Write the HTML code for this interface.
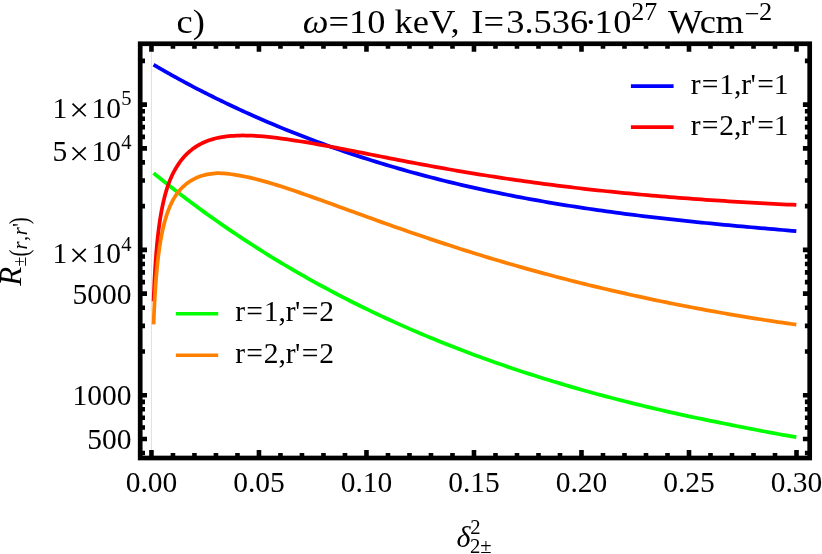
<!DOCTYPE html>
<html><head><meta charset="utf-8"><title>plot</title>
<style>html,body{margin:0;padding:0;background:#fff}svg{display:block;will-change:transform}text{font-family:"Liberation Serif",serif;fill:#000}</style>
</head><body>
<svg width="822" height="554" viewBox="0 0 822 554">
<rect width="822" height="554" fill="#fff"/>
<line x1="151.45" y1="43.75" x2="151.45" y2="458.0" stroke="#d2d2d2" stroke-width="0.7"/>
<path d="M153.60,173.11 L153.67,173.17 L153.75,173.23 L153.82,173.30 L153.90,173.36 L153.98,173.43 L154.07,173.50 L154.16,173.57 L154.25,173.64 L154.34,173.72 L154.44,173.80 L154.54,173.88 L154.64,173.96 L154.75,174.05 L154.86,174.14 L154.97,174.23 L155.09,174.33 L155.21,174.43 L155.34,174.53 L155.47,174.63 L155.60,174.74 L155.74,174.86 L155.88,174.97 L156.03,175.09 L156.18,175.22 L156.34,175.34 L156.50,175.48 L156.67,175.61 L156.85,175.76 L157.03,175.90 L157.21,176.05 L157.41,176.21 L157.61,176.37 L157.81,176.54 L158.03,176.71 L158.24,176.89 L158.47,177.07 L158.71,177.26 L158.95,177.45 L159.20,177.66 L159.46,177.87 L159.73,178.08 L160.00,178.30 L160.29,178.53 L160.58,178.77 L160.89,179.02 L161.20,179.27 L161.53,179.53 L161.87,179.80 L162.22,180.08 L162.58,180.37 L162.95,180.66 L163.33,180.97 L163.73,181.29 L164.14,181.61 L164.56,181.95 L165.00,182.30 L165.45,182.66 L165.92,183.03 L166.41,183.42 L166.91,183.81 L167.42,184.22 L167.96,184.64 L168.51,185.08 L169.08,185.53 L169.67,185.99 L170.28,186.47 L170.91,186.96 L171.56,187.47 L172.23,188.00 L172.92,188.54 L173.64,189.10 L174.38,189.67 L175.15,190.27 L175.94,190.88 L176.76,191.52 L177.60,192.17 L178.48,192.84 L179.38,193.54 L180.31,194.25 L181.28,194.99 L182.28,195.75 L183.31,196.54 L184.37,197.35 L185.47,198.18 L186.61,199.04 L187.78,199.93 L189.00,200.84 L190.25,201.78 L191.55,202.75 L192.89,203.75 L194.27,204.77 L195.71,205.83 L197.18,206.92 L198.71,208.05 L200.29,209.20 L201.93,210.39 L203.61,211.62 L205.36,212.88 L207.16,214.18 L209.02,215.51 L210.94,216.88 L212.93,218.30 L214.99,219.75 L217.11,221.24 L219.30,222.78 L221.57,224.35 L223.91,225.98 L226.34,227.64 L228.84,229.35 L231.43,231.11 L234.10,232.92 L236.86,234.77 L239.71,236.67 L242.66,238.62 L245.71,240.62 L248.86,242.68 L252.12,244.78 L255.48,246.94 L258.96,249.15 L263.48,252.00 L267.99,254.81 L272.51,257.59 L277.02,260.35 L281.54,263.07 L286.05,265.76 L290.57,268.42 L295.09,271.05 L299.60,273.66 L304.12,276.23 L308.63,278.78 L313.15,281.30 L317.67,283.79 L322.18,286.25 L326.70,288.68 L331.21,291.09 L335.73,293.47 L340.24,295.83 L344.76,298.16 L349.28,300.46 L353.79,302.73 L358.31,304.98 L362.82,307.21 L367.34,309.41 L371.85,311.59 L376.37,313.74 L380.89,315.87 L385.40,317.97 L389.92,320.05 L394.43,322.11 L398.95,324.14 L403.47,326.15 L407.98,328.14 L412.50,330.11 L417.01,332.05 L421.53,333.98 L426.04,335.88 L430.56,337.76 L435.08,339.61 L439.59,341.45 L444.11,343.27 L448.62,345.06 L453.14,346.84 L457.65,348.59 L462.17,350.33 L466.69,352.05 L471.20,353.74 L475.72,355.42 L480.23,357.08 L484.75,358.72 L489.26,360.34 L493.78,361.94 L498.30,363.53 L502.81,365.09 L507.33,366.64 L511.84,368.18 L516.36,369.69 L520.88,371.19 L525.39,372.67 L529.91,374.13 L534.42,375.58 L538.94,377.01 L543.45,378.42 L547.97,379.82 L552.49,381.20 L557.00,382.57 L561.52,383.92 L566.03,385.26 L570.55,386.58 L575.06,387.88 L579.58,389.18 L584.10,390.45 L588.61,391.71 L593.13,392.96 L597.64,394.19 L602.16,395.41 L606.68,396.62 L611.19,397.81 L615.71,398.99 L620.22,400.15 L624.74,401.30 L629.25,402.44 L633.77,403.56 L638.29,404.67 L642.80,405.77 L647.32,406.86 L651.83,407.93 L656.35,408.99 L660.86,410.04 L665.38,411.08 L669.90,412.10 L674.41,413.12 L678.93,414.12 L683.44,415.11 L687.96,416.09 L692.48,417.05 L696.99,418.01 L701.51,418.95 L706.02,419.88 L710.54,420.80 L715.05,421.71 L719.57,422.61 L724.09,423.51 L728.60,424.41 L733.12,425.31 L737.63,426.22 L742.15,427.12 L746.66,428.01 L751.18,428.90 L755.70,429.77 L760.21,430.63 L764.73,431.48 L769.24,432.32 L773.76,433.16 L778.27,433.98 L782.79,434.80 L787.31,435.61 L791.82,436.41 L796.34,437.21" fill="none" stroke="#00ff00" stroke-width="3.75" stroke-linejoin="round"/>
<path d="M153.60,64.73 L153.67,64.77 L153.75,64.81 L153.82,64.86 L153.90,64.90 L153.98,64.95 L154.07,65.00 L154.16,65.05 L154.25,65.11 L154.34,65.16 L154.44,65.22 L154.54,65.28 L154.64,65.34 L154.75,65.40 L154.86,65.46 L154.97,65.53 L155.09,65.60 L155.21,65.67 L155.34,65.74 L155.47,65.82 L155.60,65.90 L155.74,65.98 L155.88,66.06 L156.03,66.15 L156.18,66.24 L156.34,66.33 L156.50,66.43 L156.67,66.52 L156.85,66.63 L157.03,66.73 L157.21,66.84 L157.41,66.95 L157.61,67.07 L157.81,67.19 L158.03,67.31 L158.24,67.44 L158.47,67.57 L158.71,67.71 L158.95,67.85 L159.20,67.99 L159.46,68.14 L159.73,68.30 L160.00,68.46 L160.29,68.62 L160.58,68.79 L160.89,68.97 L161.20,69.15 L161.53,69.34 L161.87,69.53 L162.22,69.73 L162.58,69.94 L162.95,70.15 L163.33,70.37 L163.73,70.60 L164.14,70.83 L164.56,71.07 L165.00,71.32 L165.45,71.58 L165.92,71.85 L166.41,72.12 L166.91,72.40 L167.42,72.70 L167.96,73.00 L168.51,73.31 L169.08,73.63 L169.67,73.96 L170.28,74.30 L170.91,74.66 L171.56,75.02 L172.23,75.39 L172.92,75.78 L173.64,76.18 L174.38,76.59 L175.15,77.01 L175.94,77.45 L176.76,77.90 L177.60,78.36 L178.48,78.84 L179.38,79.34 L180.31,79.85 L181.28,80.37 L182.28,80.91 L183.31,81.47 L184.37,82.04 L185.47,82.63 L186.61,83.24 L187.78,83.87 L189.00,84.52 L190.25,85.18 L191.55,85.87 L192.89,86.57 L194.27,87.30 L195.71,88.05 L197.18,88.82 L198.71,89.61 L200.29,90.42 L201.93,91.26 L203.61,92.11 L205.36,93.00 L207.16,93.91 L209.02,94.84 L210.94,95.80 L212.93,96.79 L214.99,97.81 L217.11,98.85 L219.30,99.93 L221.57,101.03 L223.91,102.16 L226.34,103.32 L228.84,104.52 L231.43,105.74 L234.10,107.00 L236.86,108.29 L239.71,109.61 L242.66,110.97 L245.71,112.36 L248.86,113.79 L252.12,115.25 L255.48,116.74 L258.96,118.27 L263.48,120.24 L267.99,122.18 L272.51,124.10 L277.02,125.99 L281.54,127.86 L286.05,129.70 L290.57,131.52 L295.09,133.32 L299.60,135.10 L304.12,136.85 L308.63,138.58 L313.15,140.28 L317.67,141.97 L322.18,143.63 L326.70,145.27 L331.21,146.89 L335.73,148.48 L340.24,150.05 L344.76,151.61 L349.28,153.14 L353.79,154.65 L358.31,156.14 L362.82,157.60 L367.34,159.05 L371.85,160.48 L376.37,161.89 L380.89,163.27 L385.40,164.64 L389.92,165.99 L394.43,167.32 L398.95,168.63 L403.47,169.92 L407.98,171.19 L412.50,172.44 L417.01,173.68 L421.53,174.89 L426.04,176.09 L430.56,177.27 L435.08,178.43 L439.59,179.58 L444.11,180.71 L448.62,181.82 L453.14,182.91 L457.65,183.99 L462.17,185.05 L466.69,186.09 L471.20,187.12 L475.72,188.13 L480.23,189.12 L484.75,190.10 L489.26,191.07 L493.78,192.02 L498.30,192.95 L502.81,193.87 L507.33,194.77 L511.84,195.66 L516.36,196.54 L520.88,197.40 L525.39,198.25 L529.91,199.08 L534.42,199.90 L538.94,200.71 L543.45,201.50 L547.97,202.28 L552.49,203.05 L557.00,203.81 L561.52,204.55 L566.03,205.28 L570.55,206.00 L575.06,206.71 L579.58,207.41 L584.10,208.09 L588.61,208.76 L593.13,209.43 L597.64,210.08 L602.16,210.72 L606.68,211.35 L611.19,211.97 L615.71,212.58 L620.22,213.18 L624.74,213.77 L629.25,214.35 L633.77,214.93 L638.29,215.49 L642.80,216.05 L647.32,216.59 L651.83,217.13 L656.35,217.66 L660.86,218.18 L665.38,218.70 L669.90,219.20 L674.41,219.70 L678.93,220.19 L683.44,220.68 L687.96,221.16 L692.48,221.63 L696.99,222.09 L701.51,222.55 L706.02,223.00 L710.54,223.45 L715.05,223.89 L719.57,224.33 L724.09,224.76 L728.60,225.19 L733.12,225.61 L737.63,226.03 L742.15,226.44 L746.66,226.85 L751.18,227.25 L755.70,227.65 L760.21,228.05 L764.73,228.45 L769.24,228.84 L773.76,229.23 L778.27,229.61 L782.79,230.00 L787.31,230.38 L791.82,230.76 L796.34,231.13" fill="none" stroke="#0000ff" stroke-width="3.75" stroke-linejoin="round"/>
<path d="M153.60,301.42 L153.67,299.41 L153.75,297.40 L153.82,295.39 L153.90,293.39 L153.98,291.38 L154.07,289.38 L154.16,287.39 L154.25,285.39 L154.34,283.40 L154.44,281.41 L154.54,279.42 L154.64,277.44 L154.75,275.46 L154.86,273.48 L154.97,271.51 L155.09,269.54 L155.21,267.57 L155.34,265.60 L155.47,263.64 L155.60,261.69 L155.74,259.73 L155.88,257.78 L156.03,255.84 L156.18,253.90 L156.34,251.96 L156.50,250.03 L156.67,248.10 L156.85,246.18 L157.03,244.26 L157.21,242.35 L157.41,240.45 L157.61,238.55 L157.81,236.65 L158.03,234.76 L158.24,232.88 L158.47,231.00 L158.71,229.13 L158.95,227.27 L159.20,225.41 L159.46,223.56 L159.73,221.72 L160.00,219.88 L160.29,218.06 L160.58,216.26 L160.89,214.45 L161.20,212.66 L161.53,210.88 L161.87,209.11 L162.22,207.35 L162.58,205.60 L162.95,203.86 L163.33,202.13 L163.73,200.42 L164.14,198.72 L164.56,197.03 L165.00,195.35 L165.45,193.69 L165.92,192.04 L166.41,190.40 L166.91,188.78 L167.42,187.17 L167.96,185.58 L168.51,184.01 L169.08,182.46 L169.67,180.92 L170.28,179.40 L170.91,177.90 L171.56,176.44 L172.23,175.00 L172.92,173.58 L173.64,172.19 L174.38,170.82 L175.15,169.47 L175.94,168.12 L176.76,166.78 L177.60,165.45 L178.48,164.11 L179.38,162.78 L180.31,161.48 L181.28,160.21 L182.28,158.95 L183.31,157.72 L184.37,156.52 L185.47,155.34 L186.61,154.19 L187.78,153.07 L189.00,151.97 L190.25,150.90 L191.55,149.86 L192.89,148.83 L194.27,147.83 L195.71,146.85 L197.18,145.91 L198.71,145.01 L200.29,144.14 L201.93,143.31 L203.61,142.51 L205.36,141.75 L207.16,141.03 L209.02,140.34 L210.94,139.70 L212.93,139.10 L214.99,138.55 L217.11,138.04 L219.30,137.57 L221.57,137.16 L223.91,136.79 L226.34,136.46 L228.84,136.18 L231.43,135.95 L234.10,135.76 L236.86,135.62 L239.71,135.53 L242.66,135.49 L245.71,135.51 L248.86,135.58 L252.12,135.71 L255.48,135.88 L258.96,136.12 L263.48,136.48 L267.99,136.92 L272.51,137.41 L277.02,137.96 L281.54,138.55 L286.05,139.18 L290.57,139.84 L295.09,140.53 L299.60,141.24 L304.12,141.96 L308.63,142.71 L313.15,143.49 L317.67,144.28 L322.18,145.09 L326.70,145.91 L331.21,146.75 L335.73,147.60 L340.24,148.48 L344.76,149.37 L349.28,150.26 L353.79,151.16 L358.31,152.05 L362.82,152.95 L367.34,153.85 L371.85,154.75 L376.37,155.64 L380.89,156.53 L385.40,157.42 L389.92,158.30 L394.43,159.18 L398.95,160.06 L403.47,160.93 L407.98,161.79 L412.50,162.65 L417.01,163.50 L421.53,164.34 L426.04,165.18 L430.56,166.00 L435.08,166.82 L439.59,167.64 L444.11,168.44 L448.62,169.24 L453.14,170.02 L457.65,170.80 L462.17,171.57 L466.69,172.33 L471.20,173.08 L475.72,173.82 L480.23,174.55 L484.75,175.27 L489.26,175.99 L493.78,176.69 L498.30,177.38 L502.81,178.07 L507.33,178.74 L511.84,179.41 L516.36,180.06 L520.88,180.71 L525.39,181.35 L529.91,181.97 L534.42,182.59 L538.94,183.20 L543.45,183.80 L547.97,184.39 L552.49,184.97 L557.00,185.54 L561.52,186.10 L566.03,186.66 L570.55,187.20 L575.06,187.74 L579.58,188.26 L584.10,188.78 L588.61,189.29 L593.13,189.79 L597.64,190.28 L602.16,190.76 L606.68,191.24 L611.19,191.71 L615.71,192.16 L620.22,192.61 L624.74,193.06 L629.25,193.49 L633.77,193.92 L638.29,194.34 L642.80,194.75 L647.32,195.15 L651.83,195.55 L656.35,195.94 L660.86,196.32 L665.38,196.70 L669.90,197.06 L674.41,197.43 L678.93,197.78 L683.44,198.13 L687.96,198.47 L692.48,198.80 L696.99,199.13 L701.51,199.46 L706.02,199.77 L710.54,200.08 L715.05,200.39 L719.57,200.68 L724.09,200.98 L728.60,201.26 L733.12,201.55 L737.63,201.82 L742.15,202.09 L746.66,202.36 L751.18,202.62 L755.70,202.87 L760.21,203.12 L764.73,203.37 L769.24,203.61 L773.76,203.84 L778.27,204.08 L782.79,204.30 L787.31,204.53 L791.82,204.74 L796.34,204.96" fill="none" stroke="#ff0000" stroke-width="3.75" stroke-linejoin="round"/>
<path d="M153.60,324.36 L153.67,322.36 L153.75,320.37 L153.82,318.38 L153.90,316.39 L153.98,314.41 L154.07,312.43 L154.16,310.45 L154.25,308.48 L154.34,306.51 L154.44,304.54 L154.54,302.57 L154.64,300.61 L154.75,298.65 L154.86,296.70 L154.97,294.75 L155.09,292.81 L155.21,290.87 L155.34,288.93 L155.47,287.00 L155.60,285.07 L155.74,283.15 L155.88,281.23 L156.03,279.32 L156.18,277.41 L156.34,275.51 L156.50,273.61 L156.67,271.73 L156.85,269.84 L157.03,267.96 L157.21,266.09 L157.41,264.23 L157.61,262.37 L157.81,260.52 L158.03,258.68 L158.24,256.85 L158.47,255.02 L158.71,253.20 L158.95,251.39 L159.20,249.59 L159.46,247.80 L159.73,246.01 L160.00,244.24 L160.29,242.47 L160.58,240.72 L160.89,238.98 L161.20,237.24 L161.53,235.52 L161.87,233.81 L162.22,232.11 L162.58,230.43 L162.95,228.75 L163.33,227.09 L163.73,225.44 L164.14,223.81 L164.56,222.19 L165.00,220.59 L165.45,219.01 L165.92,217.45 L166.41,215.90 L166.91,214.37 L167.42,212.86 L167.96,211.37 L168.51,209.90 L169.08,208.45 L169.67,207.02 L170.28,205.61 L170.91,204.22 L171.56,202.85 L172.23,201.51 L172.92,200.19 L173.64,198.89 L174.38,197.62 L175.15,196.37 L175.94,195.16 L176.76,193.98 L177.60,192.84 L178.48,191.72 L179.38,190.64 L180.31,189.58 L181.28,188.55 L182.28,187.54 L183.31,186.54 L184.37,185.57 L185.47,184.61 L186.61,183.70 L187.78,182.82 L189.00,181.97 L190.25,181.16 L191.55,180.38 L192.89,179.62 L194.27,178.88 L195.71,178.17 L197.18,177.49 L198.71,176.86 L200.29,176.28 L201.93,175.75 L203.61,175.27 L205.36,174.83 L207.16,174.44 L209.02,174.10 L210.94,173.80 L212.93,173.53 L214.99,173.33 L217.11,173.23 L219.30,173.23 L221.57,173.31 L223.91,173.45 L226.34,173.66 L228.84,173.93 L231.43,174.26 L234.10,174.65 L236.86,175.08 L239.71,175.56 L242.66,176.11 L245.71,176.73 L248.86,177.42 L252.12,178.17 L255.48,179.00 L258.96,179.90 L263.48,181.13 L267.99,182.42 L272.51,183.76 L277.02,185.15 L281.54,186.58 L286.05,188.05 L290.57,189.54 L295.09,191.07 L299.60,192.61 L304.12,194.18 L308.63,195.77 L313.15,197.37 L317.67,198.98 L322.18,200.60 L326.70,202.23 L331.21,203.86 L335.73,205.50 L340.24,207.14 L344.76,208.79 L349.28,210.43 L353.79,212.07 L358.31,213.71 L362.82,215.35 L367.34,216.99 L371.85,218.61 L376.37,220.24 L380.89,221.86 L385.40,223.47 L389.92,225.07 L394.43,226.67 L398.95,228.25 L403.47,229.83 L407.98,231.40 L412.50,232.96 L417.01,234.52 L421.53,236.06 L426.04,237.59 L430.56,239.11 L435.08,240.62 L439.59,242.11 L444.11,243.60 L448.62,245.08 L453.14,246.54 L457.65,248.00 L462.17,249.44 L466.69,250.87 L471.20,252.28 L475.72,253.69 L480.23,255.08 L484.75,256.47 L489.26,257.84 L493.78,259.20 L498.30,260.54 L502.81,261.88 L507.33,263.20 L511.84,264.51 L516.36,265.81 L520.88,267.09 L525.39,268.37 L529.91,269.63 L534.42,270.88 L538.94,272.12 L543.45,273.34 L547.97,274.56 L552.49,275.76 L557.00,276.95 L561.52,278.13 L566.03,279.30 L570.55,280.46 L575.06,281.60 L579.58,282.73 L584.10,283.86 L588.61,284.97 L593.13,286.07 L597.64,287.15 L602.16,288.23 L606.68,289.30 L611.19,290.35 L615.71,291.39 L620.22,292.43 L624.74,293.45 L629.25,294.46 L633.77,295.46 L638.29,296.45 L642.80,297.43 L647.32,298.40 L651.83,299.35 L656.35,300.30 L660.86,301.24 L665.38,302.16 L669.90,303.08 L674.41,303.98 L678.93,304.88 L683.44,305.77 L687.96,306.64 L692.48,307.50 L696.99,308.36 L701.51,309.20 L706.02,310.04 L710.54,310.86 L715.05,311.68 L719.57,312.48 L724.09,313.27 L728.60,314.06 L733.12,314.83 L737.63,315.60 L742.15,316.35 L746.66,317.10 L751.18,317.83 L755.70,318.56 L760.21,319.27 L764.73,319.98 L769.24,320.67 L773.76,321.36 L778.27,322.03 L782.79,322.70 L787.31,323.36 L791.82,324.00 L796.34,324.64" fill="none" stroke="#ff8000" stroke-width="3.75" stroke-linejoin="round"/>
<path d="M151.45,458.0 v-8.0 M151.45,43.75 v8.0 M172.95,458.0 v-5.0 M172.95,43.75 v5.0 M194.45,458.0 v-5.0 M194.45,43.75 v5.0 M215.96,458.0 v-5.0 M215.96,43.75 v5.0 M237.46,458.0 v-5.0 M237.46,43.75 v5.0 M258.96,458.0 v-8.0 M258.96,43.75 v8.0 M280.46,458.0 v-5.0 M280.46,43.75 v5.0 M301.96,458.0 v-5.0 M301.96,43.75 v5.0 M323.47,458.0 v-5.0 M323.47,43.75 v5.0 M344.97,458.0 v-5.0 M344.97,43.75 v5.0 M366.47,458.0 v-8.0 M366.47,43.75 v8.0 M387.97,458.0 v-5.0 M387.97,43.75 v5.0 M409.47,458.0 v-5.0 M409.47,43.75 v5.0 M430.98,458.0 v-5.0 M430.98,43.75 v5.0 M452.48,458.0 v-5.0 M452.48,43.75 v5.0 M473.98,458.0 v-8.0 M473.98,43.75 v8.0 M495.48,458.0 v-5.0 M495.48,43.75 v5.0 M516.98,458.0 v-5.0 M516.98,43.75 v5.0 M538.49,458.0 v-5.0 M538.49,43.75 v5.0 M559.99,458.0 v-5.0 M559.99,43.75 v5.0 M581.49,458.0 v-8.0 M581.49,43.75 v8.0 M602.99,458.0 v-5.0 M602.99,43.75 v5.0 M624.49,458.0 v-5.0 M624.49,43.75 v5.0 M646.00,458.0 v-5.0 M646.00,43.75 v5.0 M667.50,458.0 v-5.0 M667.50,43.75 v5.0 M689.00,458.0 v-8.0 M689.00,43.75 v8.0 M710.50,458.0 v-5.0 M710.50,43.75 v5.0 M732.00,458.0 v-5.0 M732.00,43.75 v5.0 M753.51,458.0 v-5.0 M753.51,43.75 v5.0 M775.01,458.0 v-5.0 M775.01,43.75 v5.0 M796.51,458.0 v-8.0 M796.51,43.75 v8.0 M140.2,104.60 h6.8 M809.7,104.60 h-6.8 M140.2,148.34 h6.8 M809.7,148.34 h-6.8 M140.2,249.90 h6.8 M809.7,249.90 h-6.8 M140.2,293.64 h6.8 M809.7,293.64 h-6.8 M140.2,395.20 h6.8 M809.7,395.20 h-6.8 M140.2,438.94 h6.8 M809.7,438.94 h-6.8 M140.2,60.86 h4.8 M809.7,60.86 h-4.8 M140.2,111.25 h4.8 M809.7,111.25 h-4.8 M140.2,118.68 h4.8 M809.7,118.68 h-4.8 M140.2,127.11 h4.8 M809.7,127.11 h-4.8 M140.2,136.83 h4.8 M809.7,136.83 h-4.8 M140.2,162.42 h4.8 M809.7,162.42 h-4.8 M140.2,180.57 h4.8 M809.7,180.57 h-4.8 M140.2,206.16 h4.8 M809.7,206.16 h-4.8 M140.2,256.55 h4.8 M809.7,256.55 h-4.8 M140.2,263.98 h4.8 M809.7,263.98 h-4.8 M140.2,272.41 h4.8 M809.7,272.41 h-4.8 M140.2,282.13 h4.8 M809.7,282.13 h-4.8 M140.2,307.72 h4.8 M809.7,307.72 h-4.8 M140.2,325.87 h4.8 M809.7,325.87 h-4.8 M140.2,351.46 h4.8 M809.7,351.46 h-4.8 M140.2,401.85 h4.8 M809.7,401.85 h-4.8 M140.2,409.28 h4.8 M809.7,409.28 h-4.8 M140.2,417.71 h4.8 M809.7,417.71 h-4.8 M140.2,427.43 h4.8 M809.7,427.43 h-4.8 M140.2,453.02 h4.8 M809.7,453.02 h-4.8" stroke="#000" stroke-width="4.6" fill="none"/>
<rect x="140.2" y="43.75" width="669.5" height="414.25" fill="none" stroke="#000" stroke-width="4.7"/>
<line x1="630.9" y1="86.1" x2="673.6" y2="86.1" stroke="#0000ff" stroke-width="3.6"/>
<line x1="630.9" y1="127.1" x2="673.6" y2="127.1" stroke="#ff0000" stroke-width="3.6"/>
<line x1="175.9" y1="313.7" x2="218.2" y2="313.7" stroke="#00ff00" stroke-width="3.6"/>
<line x1="175.9" y1="355.3" x2="218.2" y2="355.3" stroke="#ff8000" stroke-width="3.6"/>
<text x="151.45" y="492.1" font-size="29.5" text-anchor="middle" >0.00</text>
<text x="258.96" y="492.1" font-size="29.5" text-anchor="middle" >0.05</text>
<text x="366.47" y="492.1" font-size="29.5" text-anchor="middle" >0.10</text>
<text x="473.98" y="492.1" font-size="29.5" text-anchor="middle" >0.15</text>
<text x="581.49" y="492.1" font-size="29.5" text-anchor="middle" >0.20</text>
<text x="689.0" y="492.1" font-size="29.5" text-anchor="middle" >0.25</text>
<text x="796.51" y="492.1" font-size="29.5" text-anchor="middle" >0.30</text>
<text x="131.5" y="117.60" font-size="29.5" text-anchor="end">10<tspan font-size="20.6" dy="-12.3" dx="0.3">5</tspan></text><text x="59.9" y="117.60" font-size="29.5" text-anchor="middle">1</text><path d="M72.55,103.65 L85.75,116.25 M72.55,116.25 L85.75,103.65" stroke="#000" stroke-width="1.7" fill="none"/>
<text x="131.5" y="161.34" font-size="29.5" text-anchor="end">10<tspan font-size="20.6" dy="-12.3" dx="0.3">4</tspan></text><text x="59.9" y="161.34" font-size="29.5" text-anchor="middle">5</text><path d="M72.55,147.39 L85.75,159.99 M72.55,159.99 L85.75,147.39" stroke="#000" stroke-width="1.7" fill="none"/>
<text x="131.5" y="262.90" font-size="29.5" text-anchor="end">10<tspan font-size="20.6" dy="-12.3" dx="0.3">4</tspan></text><text x="59.9" y="262.90" font-size="29.5" text-anchor="middle">1</text><path d="M72.55,248.95 L85.75,261.55 M72.55,261.55 L85.75,248.95" stroke="#000" stroke-width="1.7" fill="none"/>
<text x="131.5" y="303.64" font-size="29.5" text-anchor="end" >5000</text>
<text x="131.5" y="405.2" font-size="29.5" text-anchor="end" >1000</text>
<text x="131.5" y="448.94" font-size="29.5" text-anchor="end" >500</text>
<text x="690.7" y="93.5" font-size="29.5">r<tspan dx="1.2">=</tspan><tspan dx="0.8">1</tspan>,r<tspan dx="-0.6">'</tspan><tspan dx="1.3">=</tspan><tspan dx="0">1</tspan></text>
<text x="690.7" y="135.1" font-size="29.5">r<tspan dx="1.2">=</tspan><tspan dx="0.8">2</tspan>,r<tspan dx="-0.6">'</tspan><tspan dx="1.3">=</tspan><tspan dx="0">1</tspan></text>
<text x="235.2" y="321.4" font-size="29.5">r<tspan dx="1.2">=</tspan><tspan dx="0.8">1</tspan>,r<tspan dx="-0.6">'</tspan><tspan dx="1.3">=</tspan><tspan dx="0.9">2</tspan></text>
<text x="235.2" y="363.0" font-size="29.5">r<tspan dx="1.2">=</tspan><tspan dx="0.8">2</tspan>,r<tspan dx="-0.6">'</tspan><tspan dx="1.3">=</tspan><tspan dx="0.9">2</tspan></text>
<g transform="translate(176.6,33.4) scale(1.057,1)"><text x="0" y="0" font-size="34.5">c)</text></g>
<g transform="translate(302.7,33.4) scale(1.057,1)"><text x="0" y="0" font-size="34.5"><tspan font-style="italic">ω</tspan>=10 keV, <tspan dx="2.3">I</tspan>=<tspan dx="2.1">3</tspan>.536<tspan dx="-3.4">·</tspan><tspan dx="-2.2">1</tspan><tspan dx="0.6">0</tspan><tspan font-size="24.6" dy="-13.6" dx="-0.3">27</tspan><tspan dy="13.6" dx="2.1"> W</tspan><tspan dx="-2.4">c</tspan><tspan dx="-0.4">m</tspan><tspan font-size="25" dy="-11.9" dx="0.6">−</tspan><tspan font-size="25" dx="-0.5" dy="-1.7">2</tspan></text></g>
<text x="456.5" y="546.8" font-size="30" font-style="italic">δ</text>
<text x="470.3" y="534.1" font-size="20.7">2</text>
<text x="470.0" y="552.9" font-size="20.7">2±</text>
<g transform="translate(20.9,285.8) rotate(-90)"><text x="0" y="0" font-size="31" font-style="italic">R</text><text x="19.2" y="5.2" font-size="18">±</text><text x="36.2" y="5.9" font-size="20.7"><tspan font-style="italic">r</tspan><tspan dx="0.6">,</tspan><tspan dx="0.5" font-style="italic">r</tspan><tspan dx="0.4">'</tspan></text><g transform="translate(29.4,5.9) scale(1,1.36)"><text x="0" y="0.6" font-size="20.7">(</text></g><g transform="translate(61.6,5.9) scale(1,1.36)"><text x="0" y="0.6" font-size="20.7">)</text></g></g>
</svg>
</body></html>
